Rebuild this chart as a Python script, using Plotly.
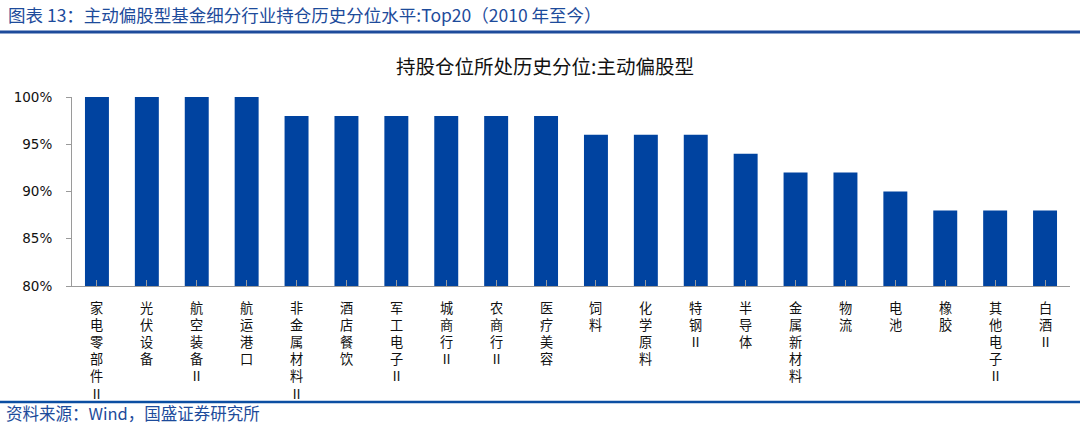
import plotly.graph_objects as go

categories = ["家电零部件Ⅱ", "光伏设备", "航空装备Ⅱ", "航运港口", "非金属材料Ⅱ", "酒店餐饮",
              "军工电子Ⅱ", "城商行Ⅱ", "农商行Ⅱ", "医疗美容", "饲料", "化学原料", "特钢Ⅱ",
              "半导体", "金属新材料", "物流", "电池", "橡胶", "其他电子Ⅱ", "白酒Ⅱ"]
values = [100, 100, 100, 100, 98, 98, 98, 98, 98, 98, 96, 96, 96, 94, 92, 92, 90, 88, 88, 88]
y_ticks = [80, 85, 90, 95, 100]
y_tick_labels = ["80%", "85%", "90%", "95%", "100%"]

cjk = "Noto Sans CJK SC"
blue = "#1d4b9b"
plot_h = 189  # plot area height in px

fig = go.Figure(go.Bar(
    x=list(range(len(categories))),
    y=values,
    marker=dict(color="#0043a0", line=dict(width=0)),
    width=0.48,
    hoverinfo="skip",
))

# vertical (stacked) category labels, one character per line
label_annotations = []
for i, name in enumerate(categories):
    for j, ch in enumerate(name):
        label_annotations.append(dict(
            text=ch, x=i, xref="x", yref="paper",
            y=-(21 + j * 17.2) / plot_h, xanchor="center", yanchor="middle",
            showarrow=False, borderpad=0,
            font=dict(family=cjk, size=13.2, color="#111111"),
        ))

fig.update_layout(
    width=1080, height=425,
    margin=dict(l=72, r=10, t=97, b=139, autoexpand=False),
    paper_bgcolor="white", plot_bgcolor="white",
    showlegend=False,
    xaxis=dict(
        tickmode="array",
        tickvals=list(range(len(categories))),
        ticktext=categories,
        showticklabels=False,
        range=[-0.5, len(categories) - 0.5],
        showline=True, linecolor="#9a9a9a", linewidth=1,
        ticks="inside", ticklen=6, tickcolor="#9a9a9a", tickson="boundaries",
        showgrid=False, zeroline=False, automargin=False,
    ),
    yaxis=dict(
        range=[80, 100],
        tickmode="array", tickvals=y_ticks, ticktext=y_tick_labels,
        showline=True, linecolor="#9a9a9a", linewidth=1,
        ticks="outside", ticklen=5, tickcolor="#9a9a9a", ticklabelstandoff=11,
        tickfont=dict(family="DejaVu Sans", size=13.5, color="#111111"),
        showgrid=False, zeroline=False, automargin=False,
    ),
    annotations=label_annotations + [
        dict(text="图表 13：主动偏股型基金细分行业持仓历史分位水平:Top20（2010 年至今）",
             xref="paper", yref="paper", x=-0.066, y=1.0 + 83/plot_h, xanchor="left", yanchor="middle",
             showarrow=False, font=dict(family=cjk, size=17.5, color=blue)),
        dict(text="持股仓位所处历史分位:主动偏股型",
             xref="paper", yref="paper", x=0.474, y=1.0 + 32/plot_h, xanchor="center", yanchor="middle",
             showarrow=False, font=dict(family=cjk, size=19.5, color="#111111")),
        dict(text="资料来源：Wind，国盛证券研究所",
             xref="paper", yref="paper", x=-0.068, y=-(413-286)/plot_h, xanchor="left", yanchor="middle",
             showarrow=False, font=dict(family=cjk, size=16.5, color=blue)),
    ],
    shapes=[
        dict(type="line", xref="paper", yref="paper", x0=-0.073, x1=1.011,
             y0=1.0 + (97-32)/plot_h, y1=1.0 + (97-32)/plot_h,
             line=dict(color=blue, width=3)),
        dict(type="line", xref="paper", yref="paper", x0=-0.073, x1=1.011,
             y0=-(402-286)/plot_h, y1=-(402-286)/plot_h,
             line=dict(color="#0b4ea2", width=2.5)),
    ],
)

fig.write_html("out.html", config={"displayModeBar": False},
               post_script="document.body.style.margin='0';document.body.style.overflow='hidden';")
